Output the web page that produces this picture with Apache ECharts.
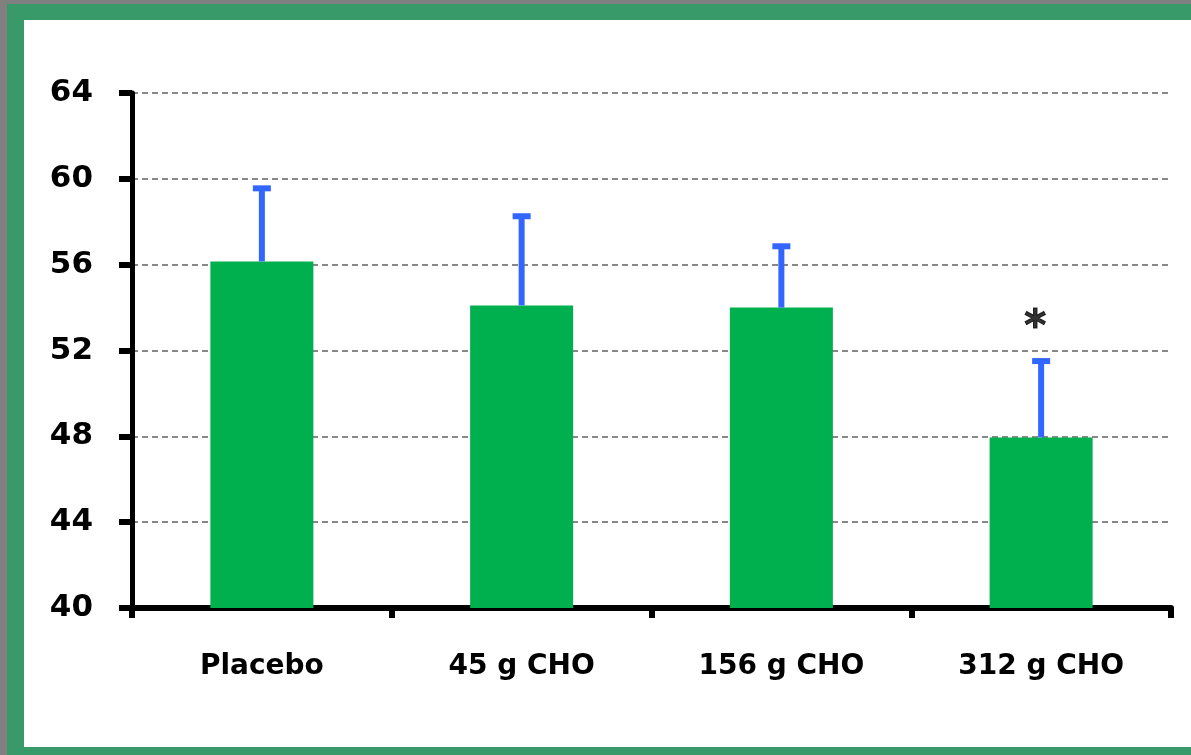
<!DOCTYPE html>
<html>
<head>
<meta charset="utf-8">
<script src="https://cdn.jsdelivr.net/npm/echarts@6/dist/echarts.min.js"></script>
<style>
  html, body { margin: 0; padding: 0; background: #808080; }
  #frame { position: absolute; left: 7px; top: 4px; width: 1184px; height: 751px; background: #379a68; }
  #main { position: absolute; left: 17px; top: 16px; width: 1167px; height: 727px; background: #ffffff; }
</style>
</head>
<body>
<div id="frame"><div id="main"></div></div>
<script>
// data
var categories = ['Placebo', '45 g CHO', '156 g CHO', '312 g CHO'];
var means = [56.15, 54.1, 54.0, 47.95];
var upper = [59.65, 58.35, 56.95, 51.6];
var starValue = [null, null, null, 53.2];

var chartDom = document.getElementById('main');
var myChart = echarts.init(chartDom);
var labelFont = "'Comic Sans MS', 'DejaVu Sans', sans-serif";

var errData = [];
for (var i = 0; i < categories.length; i++) {
    errData.push([i, means[i], upper[i]]);
}

var option = {
    animation: false,
    grid: { left: 108, right: 20, top: 73, bottom: 139 },
    xAxis: {
        type: 'category',
        data: categories,
        axisLine: { lineStyle: { color: '#000', width: 6 } },
        axisTick: { show: true, length: 10, lineStyle: { color: '#000', width: 6 } },
        axisLabel: { color: '#000', fontSize: 28, fontWeight: 'bold', fontFamily: labelFont, margin: 45 }
    },
    yAxis: {
        type: 'value',
        min: 40, max: 64, interval: 4,
        axisLine: { show: true, lineStyle: { color: '#000', width: 5 } },
        axisTick: { show: true, length: 13, lineStyle: { color: '#000', width: 6 } },
        axisLabel: { color: '#000', fontSize: 31, fontWeight: 'bold', fontFamily: labelFont, margin: 39 },
        splitLine: { lineStyle: { color: '#888', type: [6, 4], width: 2 } }
    },
    series: [{
        type: 'bar',
        data: means,
        barWidth: 103,
        itemStyle: { color: '#00b04f' }
    }, {
        type: 'custom',
        data: errData,
        z: 5,
        renderItem: function (params, api) {
            var base = api.coord([api.value(0), api.value(1)]);
            var top = api.coord([api.value(0), api.value(2)]);
            var half = 9;
            return {
                type: 'group',
                children: [{
                    type: 'line',
                    shape: { x1: top[0], y1: base[1], x2: top[0], y2: top[1] + 2 },
                    style: { stroke: '#3366ff', lineWidth: 6 }
                }, {
                    type: 'line',
                    shape: { x1: top[0] - half, y1: top[1] + 2, x2: top[0] + half, y2: top[1] + 2 },
                    style: { stroke: '#3366ff', lineWidth: 6 }
                }]
            };
        }
    }, {
        type: 'scatter',
        data: starValue,
        symbolSize: 0,
        label: {
            show: true,
            position: 'inside',
            offset: [-6, 4],
            formatter: '*',
            color: '#000',
            fontSize: 42,
            fontWeight: 'bold',
            fontFamily: labelFont,
            textBorderColor: '#000',
            textBorderWidth: 1,
            textShadowColor: '#aaa',
            textShadowOffsetX: 0,
            textShadowOffsetY: 4,
            textShadowBlur: 0
        }
    }]
};
option && myChart.setOption(option);
</script>
</body>
</html>
